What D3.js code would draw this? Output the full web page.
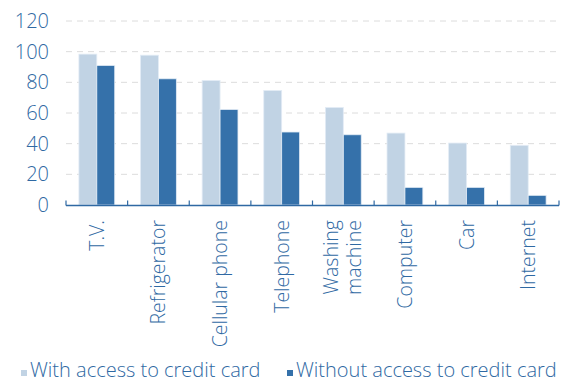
<!DOCTYPE html>
<html>
<head>
<meta charset="utf-8">
<script src="https://cdn.jsdelivr.net/npm/d3@7"></script>
<style>
  body { margin: 0; background: #fff; }
  text { font-family: "Open Sans", Lato, sans-serif; font-weight: 300; fill: #2f69a3; }
</style>
</head>
<body>
<script>
const categories = ["T.V.", "Refrigerator", "Cellular phone", "Telephone", "Washing machine", "Computer", "Car", "Internet"];
const withCard = [98.4, 97.7, 81.2, 74.7, 63.6, 46.9, 40.4, 38.9];
const withoutCard = [91, 82.3, 62.3, 47.6, 45.8, 11.5, 11.5, 6.3];
const seriesNames = ["With access to credit card", "Without access to credit card"];
const yTicks = [0, 20, 40, 60, 80, 100, 120];

const width = 571, height = 381;
const margin = { left: 66, right: 12, top: 21, bottom: 176 };
const colors = ["#c1d3e4", "#3571aa"];

const svg = d3.select("body").append("svg")
    .attr("width", width)
    .attr("height", height);

const x = d3.scaleBand()
    .domain(categories)
    .range([margin.left, width - margin.right]);

const xInner = d3.scaleBand()
    .domain([0, 1])
    .range([0, x.bandwidth()])
    .paddingOuter(0.72)
    .paddingInner(0);

const y = d3.scaleLinear()
    .domain([0, 120])
    .range([height - margin.bottom, margin.top]);

// gridlines
svg.append("g")
  .selectAll("line")
  .data(yTicks.slice(1))
  .enter().append("line")
    .attr("x1", margin.left)
    .attr("x2", width - margin.right)
    .attr("y1", d => y(d))
    .attr("y2", d => y(d))
    .attr("stroke", "#dcdcdc")
    .attr("stroke-width", 1)
    .attr("stroke-dasharray", "6,5");

// y labels
svg.append("g")
  .selectAll("text")
  .data(yTicks)
  .enter().append("text")
    .attr("x", 49)
    .attr("y", d => y(d) + 7)
    .attr("text-anchor", "end")
    .style("font-size", "20px")
    .text(d => d);

// bars
const rows = categories.map((c, i) => ({ cat: c, vals: [withCard[i], withoutCard[i]] }));

svg.append("g")
  .selectAll("g")
  .data(rows)
  .enter().append("g")
    .attr("transform", d => `translate(${x(d.cat)},0)`)
  .selectAll("rect")
  .data(d => d.vals.map((v, k) => ({ v, k })))
  .enter().append("rect")
    .attr("x", d => xInner(d.k))
    .attr("width", xInner.bandwidth())
    .attr("y", d => y(d.v))
    .attr("height", d => y(0) - y(d.v))
    .attr("fill", d => colors[d.k])
    .attr("stroke", "#e3ecf5")
    .attr("stroke-width", 0.8);

// x axis line and ticks
const base = y(0) + 0.5;
svg.append("line")
    .attr("x1", margin.left)
    .attr("x2", width - margin.right)
    .attr("y1", base)
    .attr("y2", base)
    .attr("stroke", "#2f69a3")
    .attr("stroke-width", 1.5);

const edges = categories.map(c => x(c)).concat([width - margin.right]);
svg.append("g")
  .selectAll("line")
  .data(edges)
  .enter().append("line")
    .attr("x1", d => d)
    .attr("x2", d => d)
    .attr("y1", base)
    .attr("y2", base - 5)
    .attr("stroke", "#2f69a3")
    .attr("stroke-width", 1.2);

// category labels (rotated)
const lab = svg.append("g")
  .selectAll("text")
  .data(categories)
  .enter().append("text")
    .attr("transform", d => `translate(${x(d) + x.bandwidth() / 2},220) rotate(-90)`)
    .attr("text-anchor", "end")
    .style("font-size", "19.5px");

lab.each(function(d) {
  const t = d3.select(this);
  const parts = d === "Washing machine" ? ["Washing", "machine"] : [d];
  const off = parts.length === 1 ? 7 : -5;
  parts.forEach((p, i) => {
    t.append("tspan")
      .attr("x", 0)
      .attr("y", off + i * 23)
      .text(p);
  });
});

// legend
const legendX = [21, 287];
const legend = svg.append("g")
  .selectAll("g")
  .data(seriesNames)
  .enter().append("g")
    .attr("transform", (d, i) => `translate(${legendX[i]},0)`);

legend.append("rect")
    .attr("x", 0)
    .attr("y", 370)
    .attr("width", 6)
    .attr("height", 6)
    .attr("fill", (d, i) => colors[i]);

legend.append("text")
    .attr("x", 9)
    .attr("y", 376.5)
    .style("font-size", "20px")
    .text(d => d);
</script>
</body>
</html>
